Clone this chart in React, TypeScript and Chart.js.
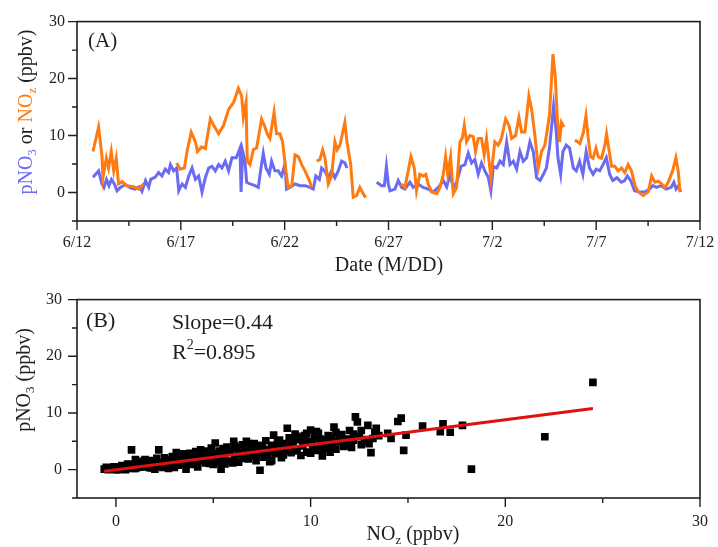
import React, { useEffect, useRef } from 'react';
import { Chart, registerables } from 'chart.js';
Chart.register(...registerables);

// ---------- Panel A data (days since 6/12) ----------
const DATE_TICKS = [0, 5, 10, 15, 20, 25, 30];
const DATE_LABELS = ['6/12', '6/17', '6/22', '6/27', '7/2', '7/7', '7/12'];
const DATE_MINOR = [2.5, 7.5, 12.5, 17.5, 22.5, 27.5];

const NOZ_T = [0.77, 1.04, 1.2, 1.25, 1.41, 1.52, 1.65, 1.77, 1.89, 2.0, 2.17, 2.4, 2.73, 2.97, 3.2, 3.3,
  4.8, 4.97, 5.17, 5.3, 5.5, 5.7, 5.8, 6.0, 6.18, 6.42, 6.58, 6.82, 7.06, 7.3, 7.54, 7.67, 7.77, 7.93, 8.01, 8.14,
  8.2, 8.33, 8.49, 8.65, 8.89, 9.05, 9.16, 9.29, 9.49, 9.61, 9.77, 9.9, 10.06, 10.17, 10.34, 10.5, 10.66, 10.82,
  10.98, 11.19, 11.3, 11.4, 11.54, 11.7, 11.83, 11.94, 12.1, 12.26, 12.42, 12.53, 12.66, 12.9, 13.0, 13.18, 13.3,
  13.47, 13.62, 13.78, 13.9, 14.0, 15.6, 15.79, 15.95, 16.08, 16.24, 16.35, 16.51, 16.67, 16.8, 16.91, 17.08,
  17.32, 17.48, 17.64, 17.75, 17.85, 17.99, 18.12, 18.28, 18.44, 18.55, 18.65, 18.76, 18.92, 19.08, 19.19, 19.32,
  19.48, 19.61, 19.72, 19.93, 20.12, 20.28, 20.44, 20.64, 20.8, 20.93, 21.12, 21.28, 21.41, 21.57, 21.76, 21.89,
  22.05, 22.21, 22.37, 22.53, 22.75, 22.92, 23.03, 23.13, 23.24, 23.33, 23.45, 23.7, 23.98, 24.22, 24.38, 24.51,
  24.62, 24.73, 24.85, 24.99, 25.1, 25.26, 25.42, 25.5, 25.63, 25.74, 25.9, 26.06, 26.22, 26.38, 26.54, 26.7,
  26.87, 27.03, 27.27, 27.51, 27.67, 27.83, 27.99, 28.15, 28.31, 28.47, 28.68, 28.84, 28.95, 29.03];
const NOZ_V = [7.2, 11.5, 6.5, 2.6, 6.0, 4.3, 7.2, 3.8, 6.0, 1.5, 1.9, 1.2, 1.0, 0.6, 1.5, null,
  5.2, 4.1, 4.3, 7.2, 10.6, 8.9, 7.2, 8.0, 7.7, 12.9, 11.8, 10.3, 11.8, 14.6, 15.8, 17.2, 18.3, 16.9, 13.2, 15.8,
  5.5, 4.9, 7.5, 7.8, 12.9, 11.5, 10.3, 9.5, 14.1, 10.3, 10.3, 8.9, 3.8, 0.9, 1.2, 6.6, 6.3, 4.9,
  3.8, 2.1, 0.9, null, 5.5, 5.8, 7.5, 6.1, 1.5, 2.9, 8.9, 7.5, 8.3, 12.3, 8.9, 4.9, -0.8,
  -0.5, 0.9, -0.2, -0.9, null, 1.5, 0.9, 3.8, 6.3, 4.3, 0.3, 3.2, 2.9, 3.2, 1.5, 0.1,
  -0.2, 0.9, 3.2, 6.3, 3.2, 6.3, -0.2, 0.9, 8.9, 9.5, 11.8, 8.9, 10.0, 9.8, 7.2, 9.5,
  9.5, 6.6, 9.5, 2.6, 8.9, 8.3, 9.5, 12.9, 11.8, 9.5, 10.0, 13.2, 10.6, 10.6, 16.9, 14.6,
  10.0, 4.3, 7.2, 8.3, 13.5, 24.3, 20.3, 13.0, 8.9, 12.3, 11.5, null, 9.2, 8.6, 10.5, 13.5,
  9.5, 6.3, 6.0, 7.8, 6.3, 6.0, 8.3, 10.3, 7.2, 4.6, 4.6, 3.8, 4.3, 3.5, 4.9, 3.8,
  1.2, 0.1, -0.5, 0.1, 2.9, 1.8, 2.0, 1.5, 0.9, 1.8, 3.8, 6.1, 3.8, 0.2];

const PNO3_T = [0.77, 1.04, 1.2, 1.3, 1.42, 1.54, 1.66, 1.8, 1.93, 2.09, 2.33, 2.57, 2.8, 3.0, 3.13, 3.3, 3.45,
  3.55, 3.77, 3.93, 4.09, 4.25, 4.41, 4.5, 4.65, 4.8, 4.9, 5.06, 5.22, 5.38, 5.54, 5.7, 5.86, 6.02, 6.18, 6.34, 6.5,
  6.66, 6.82, 6.98, 7.14, 7.3, 7.46, 7.67, 7.85, 7.9, 7.98, 8.09, 8.17, 8.33, 8.57, 8.73, 8.84, 8.97, 9.1, 9.26,
  9.37, 9.53, 9.69, 9.85, 10.01, 10.09, 10.25, 10.5, 10.74, 10.98, 11.22, 11.38, 11.5, 11.67, 11.78, 11.94, 12.1,
  12.26, 12.42, 12.58, 12.74, 12.9, 13.0, 13.5, 14.43, 14.67, 14.8, 14.9, 14.99, 15.07, 15.31, 15.47, 15.63, 15.79,
  16.03, 16.19, 16.43, 16.67, 16.91, 17.16, 17.4, 17.64, 17.8, 17.96, 18.12, 18.28, 18.49, 18.68, 18.84, 19.0,
  19.16, 19.32, 19.48, 19.64, 19.81, 19.93, 20.05, 20.21, 20.37, 20.53, 20.69, 20.85, 21.01, 21.17, 21.33, 21.49,
  21.65, 21.81, 21.97, 22.13, 22.3, 22.46, 22.6, 22.75, 22.95, 23.08, 23.16, 23.29, 23.4, 23.56, 23.72, 23.9,
  24.04, 24.2, 24.36, 24.52, 24.68, 24.85, 25.0, 25.17, 25.33, 25.49, 25.65, 25.8, 26.0, 26.21, 26.37, 26.5,
  26.66, 26.85, 27.09, 27.33, 27.57, 27.73, 27.9, 28.13, 28.37, 28.61, 28.74, 28.85, 28.97, 29.07];
const PNO3_V = [2.7, 3.8, 1.5, 0.9, 2.3, 1.2, 2.3, 1.5, 0.3, 0.9, 1.4, 0.8, 0.6, 1.0, 0.2, 2.1, 0.9,
  2.3, 2.7, 3.5, 2.9, 4.1, 3.5, 4.9, 3.8, 4.3, 0.3, 1.5, 0.9, 2.9, 4.3, 2.3, 2.9, 0.1, 2.6, 4.3, 4.6,
  3.8, 4.9, 4.3, 5.5, 3.8, 6.1, 6.1, 7.8, 0.1, 7.2, 5.5, 1.8, 1.5, 1.2, 0.9, 3.8, 6.9, 4.3, 3.2,
  5.5, 3.8, 3.8, 2.9, 4.9, 0.6, 0.9, 1.5, 1.2, 1.2, 0.9, 0.6, 2.9, 2.3, 4.3, 3.7, 2.6,
  3.8, 2.6, 3.8, 5.5, 5.2, 4.3, null, 1.8, 1.2, 1.2, 4.6, 1.5, 0.3, 0.6, 2.1, 0.9, 0.6,
  1.8, 0.9, 1.5, 0.9, 0.6, 0.1, 0.9, 2.1, 1.0, 3.2, 0.9, 1.8, 4.6, 4.9, 6.9, 5.2,
  5.8, 3.2, 5.2, 3.8, 2.6, 0.3, 4.6, 4.3, 5.5, 4.9, 8.9, 4.9, 5.5, 4.1, 7.2, 5.5,
  6.1, 8.9, 7.2, 2.6, 2.1, 3.2, 4.3, 7.8, 15.2, 10.6, 6.1, 3.2, 7.2, 8.3, 7.8, 4.3,
  3.8, 5.5, 3.2, 7.2, 4.3, 3.2, 4.1, 3.8, 4.9, 6.1, 3.2, 2.1, 2.6, 1.8, 2.1, 2.9,
  2.1, 0.3, 0.1, 0.1, 0.6, 1.2, 0.9, 1.2, 0.6, 0.9, 1.8, 0.6, 1.2, 0.1];

// ---------- Panel B data ----------
const B_X_TICKS = [0, 10, 20, 30];
const B_X_MINOR = [5, 15, 25];
const Y_TICKS = [0, 10, 20, 30];
const Y_MINOR = [-5, 5, 15, 25];

const SC_NOZ = [-0.6, -0.5, -0.4, -0.3, -0.2, -0.1, 0.0, 0.1, 0.2, 0.3, 0.4, 0.5, 0.6, 0.7, 0.8, 0.9, 1.0, 1.1,
  1.2, 1.3, 1.4, 1.5, 1.6, 1.7, 1.8, 1.9, 2.0, 2.1, 2.2, 2.3, 2.4, 2.5, 2.6, 2.7, 2.8, 2.9, 3.0, 3.1, 3.2, 3.3,
  3.4, 3.5, 3.6, 3.7, 3.8, 3.9, 4.0, 4.1, 4.2, 4.3, 4.35, 4.5, 4.6, 4.7, 4.8, 4.9, 5.0, 5.1, 5.2, 5.3, 5.4, 5.5,
  5.6, 5.7, 5.8, 5.9, 6.05, 6.1, 6.2, 6.3, 6.4, 6.5, 6.6, 6.7, 6.8, 6.9, 7.0, 7.1, 7.2, 7.3, 7.4, 7.5, 7.6, 7.7,
  7.8, 7.9, 8.0, 8.1, 8.2, 8.3, 8.4, 8.5, 8.6, 8.7, 8.8, 8.9, 9.0, 9.1, 9.2, 9.3, 9.4, 9.5, 9.6, 9.7, 9.8, 9.9,
  10.0, 10.1, 10.2, 10.3, 10.4, 10.5, 10.6, 10.7, 10.8, 10.9, 11.0, 11.1, 11.2, 11.3, 11.4, 11.6, 11.7, 11.9,
  12.0, 12.1, 12.3, 12.4, 12.5, 12.6, 12.77, 12.94, 13.1, 13.2, 13.37, 13.5, 13.96, 14.13, 14.48, 14.65, 14.78,
  14.9, 15.75, 16.66, 16.8, 17.17, 17.8, 18.26, 22.03, 24.5,
  0.0, 0.3, 0.5, 1.0, 1.5, 2.0, 2.5, 3.0, 3.5, 4.0, 4.5, 5.0, 5.5, 6.0, 6.5, 7.0, 7.5, 8.0, 8.5, 9.0, 9.5,
  10.0, 10.5, 11.0, 11.5, 12.0, 12.2, 13.0,
  0.1, 0.4, 0.7, 0.9, 1.2, 1.4, 1.7, 1.9, 2.2, 2.4, 2.7, 2.9, 3.2, 3.4, 3.6, 3.9, 4.1, 4.3, 4.6, 4.8, 5.1, 5.3,
  5.6, 5.8, 6.1, 6.3, 6.6, 6.8, 7.1, 7.3, 7.6, 7.8, 8.1, 8.3, 8.6, 8.8, 9.1, 9.3, 9.6, 9.8, 10.1, 10.3, 10.6,
  10.8, 11.1, 11.3, 11.6, 11.8, 12.2, 12.6, 12.9, 13.3];
const SC_PNO3 = [0.1, 0.4, 0.0, 0.3, 0.1, 0.5, 0.2, 0.0, 0.4, 0.7, 0.2, 0.5, 1.0, 0.3, 3.5, 0.8, 1.8, 0.4,
  1.2, 0.7, 1.5, 0.5, 1.1, 1.6, 0.3, 0.9, 1.4, 2.0, 3.5, 0.6, 1.2, 2.1, 1.6, 0.2, 1.0, 2.3, 1.5, 3.0, 0.8, 2.0,
  1.2, 2.6, 0.1, 1.8, 2.9, 1.1, 2.2, 3.2, 0.5, 1.6, 3.5, 2.6, 1.2, 3.0, 2.0, 3.8, 0.9, 4.7, 2.4, 3.3, 0.1, 1.8,
  2.9, 4.0, 1.5, 3.4, 5.0, 2.3, 3.9, 1.3, 2.8, 4.4, 3.2, 5.0, 1.9, 3.6, 2.6, 4.6, 1.6, 3.1, -0.1, 4.0, 2.2, 5.1,
  3.4, 1.4, 4.3, 6.1, 2.8, 3.8, 5.2, 2.1, 4.6, 3.3, 7.3, 5.6, 3.0, 4.9, 6.3, 3.6, 5.3, 2.5, 4.2, 6.0, 3.1, 5.0,
  7.0, 4.0, 5.7, 3.4, 6.4, 4.6, 2.4, 5.2, 3.8, 6.0, 4.3, 5.5, 7.5, 3.6, 4.9, 6.2, 4.1, 5.4,
  6.9, 3.9, 9.3, 8.4, 5.8, 4.4, 5.0, 7.8, 3.0, 5.5, 7.3, 6.0, 6.4, 5.5, 8.5, 9.1, 3.4,
  6.1, 7.7, 6.7, 8.1, 6.6, 7.8, 0.1, 5.8, 15.4,
  0.0, 0.1, 0.0, 0.2, 1.8, 0.1, 0.9, 0.4, 1.4, 0.9, 1.9, 2.8, 3.7, 1.2, 2.2, 3.9, 2.9, 1.6, 3.5, 4.4, 5.5,
  2.9, 5.4, 3.1, 5.9, 4.6, 5.2, 4.6,
  0.3, 0.6, 0.9, 0.2, 0.5, 0.9, 0.4, 1.5, 1.0, 0.4, 1.7, 0.7, 1.9, 2.8, 1.0, 2.3, 1.4, 2.7, 3.3, 1.1, 2.0, 1.3,
  1.0, 3.1, 4.2, 3.0, 2.0, 4.6, 2.5, 4.3, 3.6, 2.2, 3.2, 4.8, 2.6, 4.1, 3.3, 5.9, 4.8, 6.4, 4.6, 6.7, 3.6,
  4.9, 4.0, 6.6, 5.0, 4.3, 6.3, 6.9, 5.3, 6.6];

const FIT_X = [-0.6, 24.5];
const FIT_Y = [-0.3, 10.8];

// ---------- styles ----------
const BLUE = '#6a6af2';
const ORANGE = '#ff7b12';
const RED = '#e01010';
const INK = '#1e1e1e';
const SERIF = '"Liberation Serif", "Times New Roman", serif';

type Seg = { t: string; c: string; s?: 'sub' | 'sup' };
type TextItem = { segs: Seg[]; x: number; y: number; size: number; rotate?: boolean; align?: 'left' | 'center' };

function drawRich(ctx: CanvasRenderingContext2D, item: TextItem) {
  const { segs, x, y, size, rotate, align } = item;
  ctx.save();
  ctx.translate(x, y);
  if (rotate) ctx.rotate(-Math.PI / 2);
  ctx.textBaseline = 'middle';
  ctx.textAlign = 'left';
  const fontFor = (s: Seg) => `${s.s ? Math.round(size * 0.65) : size}px ${SERIF}`;
  let total = 0;
  for (const s of segs) { ctx.font = fontFor(s); total += ctx.measureText(s.t).width; }
  let cx = align === 'left' ? 0 : -total / 2;
  for (const s of segs) {
    ctx.font = fontFor(s);
    ctx.fillStyle = s.c;
    const dy = s.s === 'sub' ? size * 0.3 : s.s === 'sup' ? -size * 0.35 : 0;
    ctx.fillText(s.t, cx, dy);
    cx += ctx.measureText(s.t).width;
  }
  ctx.restore();
}

function framePlugin(cfg: { xMajor: number[]; xMinor: number[]; yMajor: number[]; yMinor: number[]; texts: TextItem[] }) {
  return {
    id: 'frame',
    afterDraw(chart: any) {
      const { ctx, chartArea: a, scales } = chart;
      ctx.save();
      ctx.strokeStyle = INK;
      ctx.lineWidth = 1.6;
      ctx.strokeRect(a.left, a.top, a.right - a.left, a.bottom - a.top);
      ctx.lineWidth = 1.4;
      ctx.beginPath();
      const tick = (arr: number[], len: number, axis: 'x' | 'y') => {
        for (const v of arr) {
          if (axis === 'x') {
            const p = scales.x.getPixelForValue(v);
            ctx.moveTo(p, a.bottom); ctx.lineTo(p, a.bottom + len);
          } else {
            const p = scales.y.getPixelForValue(v);
            ctx.moveTo(a.left, p); ctx.lineTo(a.left - len, p);
          }
        }
      };
      tick(cfg.xMajor, 9, 'x'); tick(cfg.xMinor, 5, 'x');
      tick(cfg.yMajor, 9, 'y'); tick(cfg.yMinor, 5, 'y');
      ctx.stroke();
      ctx.restore();
      for (const t of cfg.texts) drawRich(ctx, t);
    },
  };
}

const tickFont = { family: SERIF, size: 16 };
const noGrid = { display: false, drawTicks: false, tickLength: 0 };

export default function App() {
  const topRef = useRef<HTMLCanvasElement>(null);
  const botRef = useRef<HTMLCanvasElement>(null);

  useEffect(() => {
    const nozData = NOZ_T.map((t, i) => ({ x: t, y: NOZ_V[i] }));
    const pno3Data = PNO3_T.map((t, i) => ({ x: t, y: PNO3_V[i] }));

    const topTexts: TextItem[] = [
      { segs: [{ t: '(A)', c: INK }], x: 88, y: 41, size: 21, align: 'left' },
      {
        segs: [
          { t: 'pNO', c: BLUE }, { t: '3', c: BLUE, s: 'sub' }, { t: ' or ', c: INK },
          { t: 'NO', c: ORANGE }, { t: 'z', c: ORANGE, s: 'sub' }, { t: ' (ppbv)', c: INK },
        ], x: 27, y: 112, size: 20, rotate: true,
      },
      { segs: [{ t: 'Date (M/DD)', c: INK }], x: 389, y: 266, size: 20 },
    ];

    const top = new Chart(topRef.current!, {
      type: 'line',
      data: {
        datasets: [
          { data: nozData as any, borderColor: ORANGE, borderWidth: 3, pointRadius: 0, spanGaps: false, tension: 0 },
          { data: pno3Data as any, borderColor: BLUE, borderWidth: 3, pointRadius: 0, spanGaps: false, tension: 0 },
        ],
      },
      options: {
        animation: false,
        responsive: false,
        layout: { padding: { top: 17, right: 18, left: 0, bottom: 0 } },
        plugins: { legend: { display: false }, tooltip: { enabled: false } },
        scales: {
          x: {
            type: 'linear', min: 0, max: 30,
            grid: noGrid, border: { display: false },
            ticks: {
              font: tickFont, color: INK, padding: 12, maxRotation: 0, autoSkip: false,
              callback: (v: any) => { const i = DATE_TICKS.indexOf(Number(v)); return i >= 0 ? DATE_LABELS[i] : ''; },
            },
            afterBuildTicks: (s: any) => { s.ticks = DATE_TICKS.map((v) => ({ value: v })); },
            afterFit: (s: any) => { s.height = 54; s.paddingRight = 0; s.paddingLeft = 0; },
          },
          y: {
            type: 'linear', min: -5, max: 30,
            grid: noGrid, border: { display: false },
            ticks: { font: tickFont, color: INK, padding: 12 },
            afterBuildTicks: (s: any) => { s.ticks = Y_TICKS.map((v) => ({ value: v })); },
            afterFit: (s: any) => { s.width = 77; },
          },
        },
      },
      plugins: [framePlugin({ xMajor: DATE_TICKS, xMinor: DATE_MINOR, yMajor: Y_TICKS, yMinor: Y_MINOR, texts: topTexts })],
    } as any);

    const scData = SC_NOZ.map((x, i) => ({ x, y: SC_PNO3[i] }));
    const fitData = FIT_X.map((x, i) => ({ x, y: FIT_Y[i] }));

    const botTexts: TextItem[] = [
      { segs: [{ t: '(B)', c: INK }], x: 86, y: 46, size: 22, align: 'left' },
      { segs: [{ t: 'Slope=0.44', c: INK }], x: 172, y: 48, size: 22, align: 'left' },
      { segs: [{ t: 'R', c: INK }, { t: '2', c: INK, s: 'sup' }, { t: '=0.895', c: INK }], x: 172, y: 78, size: 22, align: 'left' },
      { segs: [{ t: 'pNO', c: INK }, { t: '3', c: INK, s: 'sub' }, { t: ' (ppbv)', c: INK }], x: 25, y: 105, size: 20, rotate: true },
      { segs: [{ t: 'NO', c: INK }, { t: 'z', c: INK, s: 'sub' }, { t: ' (ppbv)', c: INK }], x: 413, y: 260, size: 20 },
    ];

    const bot = new Chart(botRef.current!, {
      type: 'scatter',
      data: {
        datasets: [
          { type: 'line', data: fitData as any, borderColor: RED, borderWidth: 3, pointRadius: 0, showLine: true },
          {
            data: scData as any, pointStyle: 'rect', pointRadius: 5.4,
            backgroundColor: '#000', borderColor: '#000', borderWidth: 0,
          },
        ],
      },
      options: {
        animation: false,
        responsive: false,
        layout: { padding: { top: 19, right: 18, left: 0, bottom: 0 } },
        plugins: { legend: { display: false }, tooltip: { enabled: false } },
        scales: {
          x: {
            type: 'linear', min: -2, max: 30,
            grid: noGrid, border: { display: false },
            ticks: { font: tickFont, color: INK, padding: 14, maxRotation: 0, autoSkip: false },
            afterBuildTicks: (s: any) => { s.ticks = B_X_TICKS.map((v) => ({ value: v })); },
            afterFit: (s: any) => { s.height = 49; s.paddingRight = 0; s.paddingLeft = 0; },
          },
          y: {
            type: 'linear', min: -5, max: 30,
            grid: noGrid, border: { display: false },
            ticks: { font: tickFont, color: INK, padding: 15 },
            afterBuildTicks: (s: any) => { s.ticks = Y_TICKS.map((v) => ({ value: v })); },
            afterFit: (s: any) => { s.width = 77; },
          },
        },
      },
      plugins: [framePlugin({ xMajor: B_X_TICKS, xMinor: B_X_MINOR, yMajor: Y_TICKS, yMinor: Y_MINOR, texts: botTexts })],
    } as any);

    return () => { top.destroy(); bot.destroy(); };
  }, []);

  return (
    <div style={{ position: 'absolute', left: 0, top: 0, width: 718, height: 547, background: '#fff' }}>
      <canvas ref={topRef} width={718} height={275} style={{ display: 'block', width: 718, height: 275 }} />
      <canvas ref={botRef} width={718} height={272} style={{ display: 'block', width: 718, height: 272 }} />
    </div>
  );
}
